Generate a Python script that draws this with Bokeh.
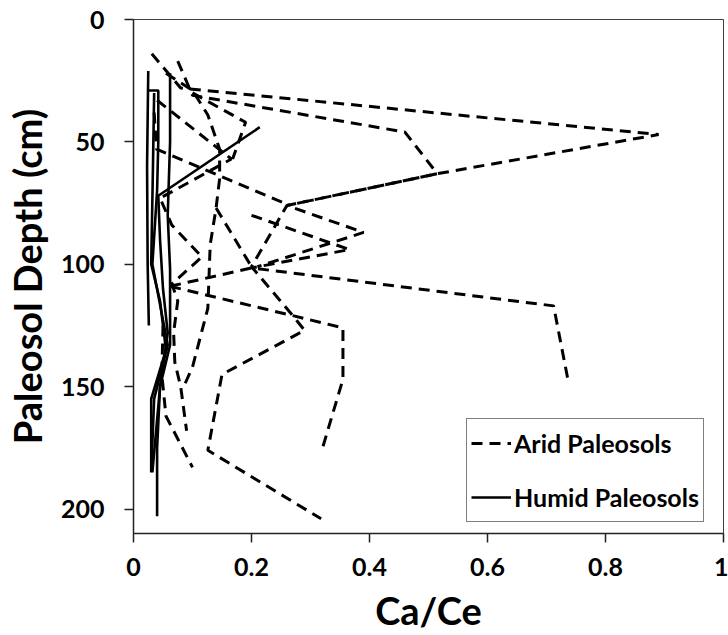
from bokeh.plotting import figure
from bokeh.models import Range1d, FixedTicker, Legend, LegendItem
from bokeh.embed import file_html
from bokeh.resources import INLINE

# Ca/Ce ratio (x) against depth below the paleosol surface in cm (y)

# Arid paleosol profiles
arid_a_x = [0.031, 0.08, 0.89, 0.515, 0.26, 0.20, 0.27, 0.29, 0.15, 0.126, 0.318]
arid_a_d = [14, 28, 47, 63, 76, 101, 121, 127, 145, 176, 204]
arid_b_x = [0.075, 0.10, 0.46, 0.515, 0.26, 0.39, 0.21]
arid_b_d = [17, 31, 46, 63, 76, 87, 101]
arid_c_x = [0.04, 0.166, 0.045, 0.065, 0.116, 0.065, 0.075, 0.068, 0.07, 0.08, 0.09]
arid_c_d = [33, 57, 73, 84, 97, 108, 115, 128, 140, 150, 168]
arid_d_x = [0.035, 0.039, 0.255]
arid_d_d = [38, 53, 75]
arid_e_x = [0.20, 0.366, 0.20]
arid_e_d = [80, 94, 101.5]
arid_f_x = [0.062, 0.20, 0.712, 0.737]
arid_f_d = [109, 101.5, 117, 148]
arid_g_x = [0.062, 0.27, 0.355, 0.355, 0.318]
arid_g_d = [109, 121, 126, 147, 177]
arid_h_x = [0.055, 0.10, 0.126, 0.146, 0.146, 0.14, 0.13, 0.126, 0.10, 0.087]
arid_h_d = [22, 29, 39, 53, 65, 77, 92, 118, 142, 149]
arid_i_x = [0.14, 0.20]
arid_i_d = [77, 101]
arid_j_x = [0.10, 0.19, 0.168]
arid_j_d = [30, 42, 57]
arid_k_x = [0.05, 0.048, 0.055, 0.10]
arid_k_d = [125, 145, 162, 183]

# Humid paleosol profiles
humid_a_x = [0.025, 0.023, 0.024, 0.026]
humid_a_d = [21, 60, 100, 125]
humid_b_x = [0.025, 0.042, 0.042, 0.040, 0.032, 0.058, 0.035, 0.030]
humid_b_d = [29, 29, 50, 70, 100, 133, 155, 185]
humid_c_x = [0.062, 0.062, 0.058, 0.062, 0.062, 0.045, 0.040, 0.040]
humid_c_d = [22, 50, 80, 102, 133, 150, 175, 203]
humid_d_x = [0.214, 0.042, 0.045, 0.050, 0.058, 0.045, 0.032]
humid_d_d = [44, 72, 90, 110, 128, 150, 185]
humid_e_x = [0.035, 0.033, 0.030, 0.045, 0.055, 0.030, 0.030]
humid_e_d = [30, 60, 100, 115, 135, 155, 185]

x_ticks = [0, 0.2, 0.4, 0.6, 0.8, 1]
x_tick_labels = ["0", "0.2", "0.4", "0.6", "0.8", "1"]
y_ticks = [0, 50, 100, 150, 200]

arid = [(arid_a_x, arid_a_d), (arid_b_x, arid_b_d), (arid_c_x, arid_c_d),
        (arid_d_x, arid_d_d), (arid_e_x, arid_e_d), (arid_f_x, arid_f_d),
        (arid_g_x, arid_g_d), (arid_h_x, arid_h_d), (arid_i_x, arid_i_d),
        (arid_j_x, arid_j_d), (arid_k_x, arid_k_d)]
humid = [(humid_a_x, humid_a_d), (humid_b_x, humid_b_d), (humid_c_x, humid_c_d),
         (humid_d_x, humid_d_d), (humid_e_x, humid_e_d)]

FONT = "Lato"

p = figure(width=728, height=635, output_backend="svg", toolbar_location=None,
           x_range=Range1d(0, 1), y_range=Range1d(210, 0),
           min_border_left=132, min_border_right=5,
           min_border_top=19, min_border_bottom=101)
p.xgrid.visible = False
p.ygrid.visible = False
p.outline_line_color = "#404040"
p.outline_line_width = 1
p.background_fill_color = "white"
p.border_fill_color = "white"

arid_r = [p.line(x, d, line_color="black", line_width=3, line_dash="11 7")
          for x, d in arid]
humid_r = [p.line(x, d, line_color="black", line_width=2.6)
           for x, d in humid]

p.xaxis.ticker = FixedTicker(ticks=x_ticks)
p.xaxis.major_label_overrides = dict(zip(x_ticks, x_tick_labels))
p.yaxis.ticker = FixedTicker(ticks=y_ticks)

for ax in (p.xaxis[0], p.yaxis[0]):
    ax.major_tick_in = 0
    ax.major_tick_out = 9
    ax.minor_tick_in = 0
    ax.minor_tick_out = 0
    ax.axis_line_width = 1.5
    ax.axis_line_color = "#222222"
    ax.major_tick_line_width = 1.5
    ax.major_tick_line_color = "#222222"
    ax.major_label_text_font = FONT
    ax.major_label_text_font_style = "bold"
    ax.major_label_text_font_size = "25px"
    ax.major_label_text_color = "black"
    ax.axis_label_text_font = FONT
    ax.axis_label_text_font_style = "bold"
    ax.axis_label_text_font_size = "38px"
    ax.axis_label_text_color = "black"

p.xaxis.axis_label = "Ca/Ce"
p.yaxis.axis_label = "Paleosol Depth (cm)"
p.xaxis.major_label_standoff = 15
p.yaxis.major_label_standoff = 20
p.xaxis.axis_label_standoff = 8
p.yaxis.axis_label_standoff = 8

legend = Legend(items=[LegendItem(label="Arid Paleosols", renderers=[arid_r[0]]),
                       LegendItem(label="Humid Paleosols", renderers=[humid_r[0]])],
                location=(333, 11))
legend.border_line_color = "black"
legend.border_line_width = 1
legend.background_fill_color = "white"
legend.background_fill_alpha = 1
legend.label_text_font = FONT
legend.label_text_font_style = "bold"
legend.label_text_font_size = "25px"
legend.label_text_color = "black"
legend.glyph_width = 40
legend.glyph_height = 40
legend.label_height = 40
legend.spacing = 14
legend.padding = 4
legend.margin = 0
legend.label_standoff = 3
p.add_layout(legend)

open("out.html", "w").write(file_html(p, INLINE))
